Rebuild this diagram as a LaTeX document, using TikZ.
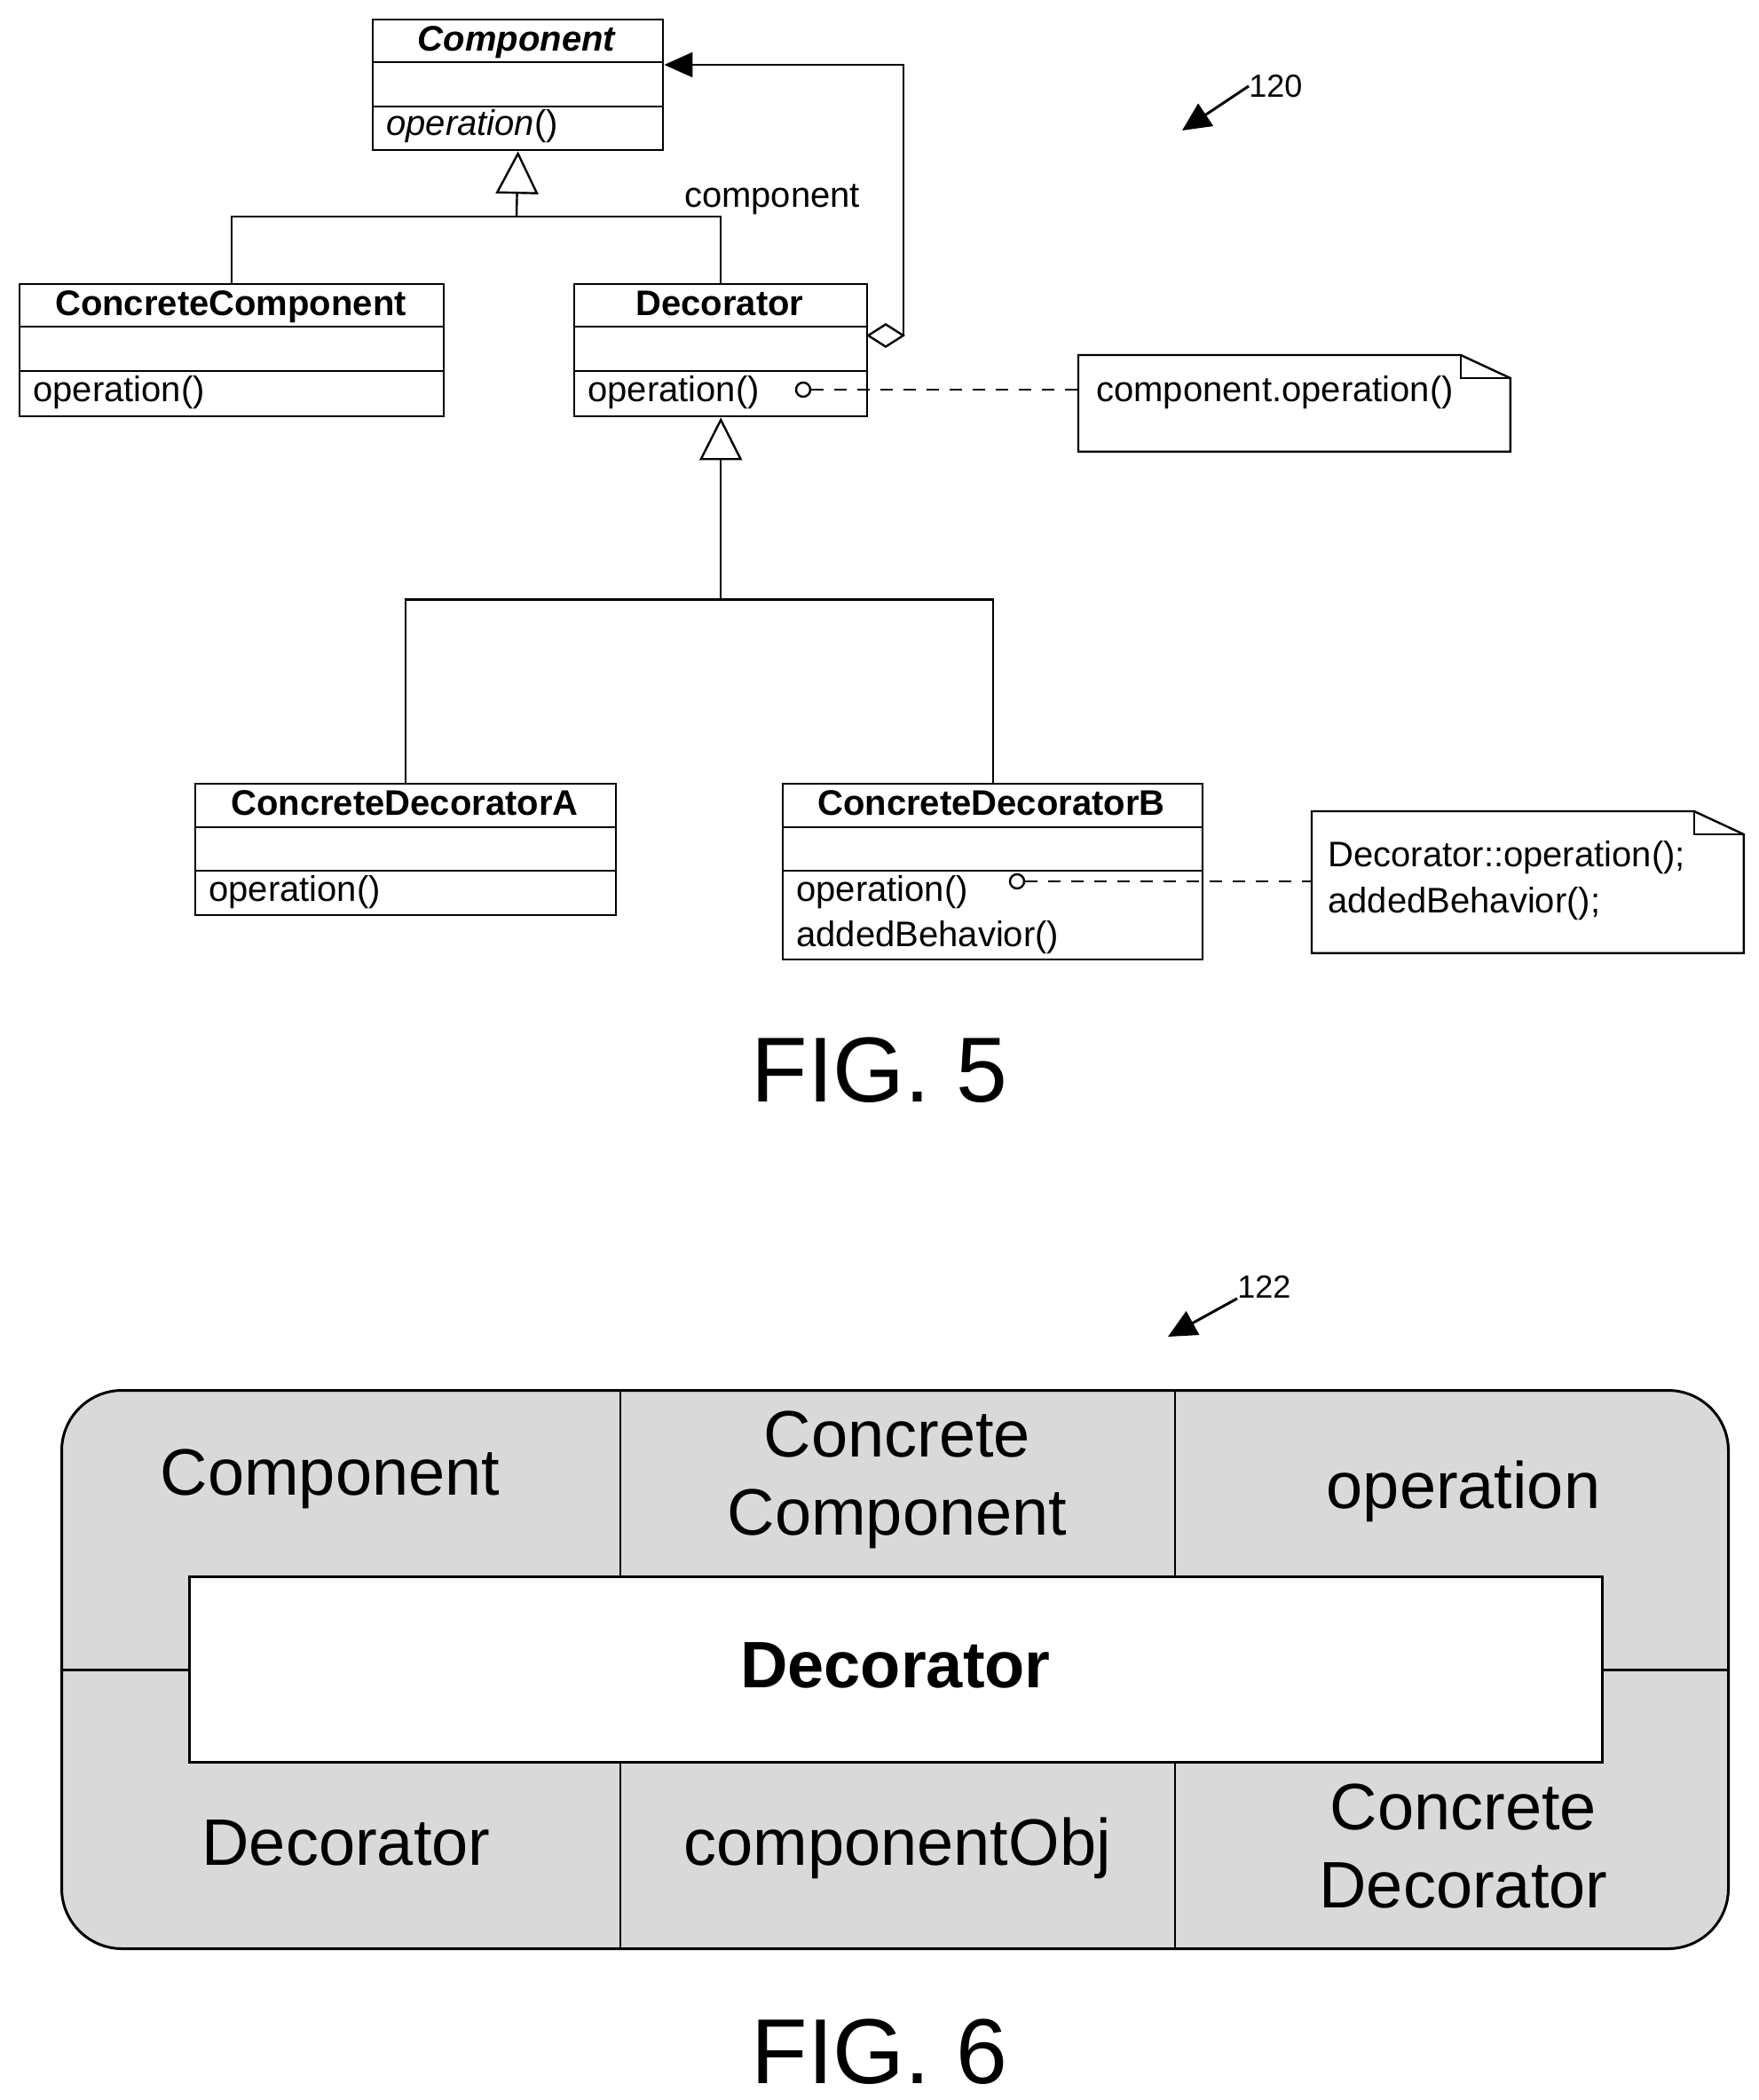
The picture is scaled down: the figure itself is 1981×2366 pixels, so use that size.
\documentclass[tikz,border=0pt]{standalone}
\usepackage{fontspec}
\setmainfont{Liberation Sans}
\usetikzlibrary{arrows.meta}
\newcommand\umlbox[7]{%
 \node[draw, line width=1.2pt, anchor=north west, minimum width={(#4-#2)*0.5pt}, minimum height={(#5-#3)*0.5pt}, inner sep=0] (#1) at (#2,#3) {};
 \draw[line width=1.2pt] (#2,#6) -- (#4,#6) (#2,#7) -- (#4,#7);}
\newcommand\notebox[5]{%
 \node[anchor=north west, minimum width={(#4-#2)*0.5pt}, minimum height={(#5-#3)*0.5pt}, inner sep=0] (#1) at (#2,#3) {};
 \draw[line width=1.2pt] (#1.south west) -- (#1.north west) -- ([xshift=-28pt]#1.north east) -- ([yshift=-13pt]#1.north east) -- (#1.south east) -- cycle;
 \draw[line width=1.2pt] ([xshift=-28pt]#1.north east) -- ([xshift=-28pt,yshift=-13pt]#1.north east) -- ([yshift=-13pt]#1.north east);}
\begin{document}
\begin{tikzpicture}[x=0.5pt,y=-0.5pt,
  uml/.style={font=\fontsize{20}{24}\selectfont, inner sep=0, anchor=base west},
  umlb/.style={font=\fontsize{20}{24}\selectfont\bfseries, inner sep=0, anchor=base},
  big/.style={font=\fontsize{37}{44}\selectfont, align=center, inner sep=0},
  fig/.style={font=\fontsize{52}{60}\selectfont, inner sep=0},
  ref/.style={font=\fontsize{18}{20}\selectfont, inner sep=0, anchor=west},
  ln/.style={line width=1.2pt},
  dsh/.style={line width=1.2pt, dash pattern=on 7pt off 6pt},
  gen/.style={ln, -{Triangle[open, length=24pt, width=24pt]}},
  refarr/.style={line width=1.5pt, -{Triangle[length=16pt, width=15pt]}}]
\useasboundingbox (0,0) rectangle (1981,2366);
% ---------- FIG 5 ----------
\umlbox{comp}{419}{21}{746}{168}{70}{120}
\node[umlb, font=\fontsize{20}{24}\selectfont\bfseries\itshape] (compT) at (582,57) {Component};
\node[uml] (compO) at (435,152) {\itshape operation\upshape()};
\umlbox{cc}{21}{319}{499}{468}{368}{418}
\node[umlb] (ccT) at (260,355) {ConcreteComponent};
\node[uml] (ccO) at (37,452) {operation()};
\umlbox{dec}{646}{319}{976}{468}{368}{418}
\node[umlb] (decT) at (811,355) {Decorator};
\node[uml] (decO) at (662,452) {operation()};
\umlbox{cda}{219}{882}{693}{1030}{932}{981}
\node[umlb] (cdaT) at (456,918) {ConcreteDecoratorA};
\node[uml] (cdaO) at (235,1015) {operation()};
\umlbox{cdb}{881}{882}{1354}{1080}{932}{981}
\node[umlb] (cdbT) at (1117,918) {ConcreteDecoratorB};
\node[uml] (cdbO) at (897,1015) {operation()};
\node[uml] (cdbA) at (897,1066) {addedBehavior()};
\notebox{n1}{1215}{400}{1701}{508}
\node[uml] (n1t) at (1235,452) {component.operation()};
\notebox{n2}{1478}{914}{1964}{1073}
\node[uml] (n2a) at (1496,976) {Decorator::operation();};
\node[uml] (n2b) at (1496,1028) {addedBehavior();};
% generalisation
\coordinate (j1) at (582,244);
\draw[ln] (cc.north) |- (j1) -| (dec.north);
\draw[gen] (j1) -- (comp.south);
\path (dec.south) ++(0,205) coordinate (j2);
\draw[ln] (cda.north) |- (j2) -| (cdb.north);
\draw[gen] (j2) -- (dec.south);
% aggregation
\coordinate (ag) at (1018,73);
\draw[ln, {Diamond[open, length=22pt, width=14pt]}-{Triangle[length=16pt, width=14pt]}] (976,378) -| (ag) -- (comp.east |- ag);
\node[font=\fontsize{20}{24}\selectfont, anchor=base, inner sep=0] (lab) at (870,233) {component};
% note links
\node[draw, ln, circle, inner sep=0, minimum size=8pt] (c1) at (905,439) {};
\draw[dsh] (c1) -- (n1.west |- c1);
\node[draw, ln, circle, inner sep=0, minimum size=8pt] (c2) at (1146,993) {};
\draw[dsh] (c2) -- (n2.west |- c2);
\node[fig] (f5) at (991,1206) {FIG. 5};
\node[ref] (r120) at (1407,97) {120};
\coordinate (a120) at (1332,147);
\draw[refarr] (r120.west) -- (a120);
% ---------- FIG 6 ----------
\node[ref] (r122) at (1394,1450) {122};
\coordinate (a122) at (1316,1506);
\draw[refarr] (r122.south west) -- (a122);
\node[draw, line width=1.5pt, fill=gray!30, rounded corners=34pt, anchor=north west, minimum width=939pt, minimum height=314.5pt, inner sep=0] (outer) at (68,1565) {};
\draw[ln] (699,1565) -- (699,1775) (1324,1565) -- (1324,1775);
\draw[ln] (699,1984) -- (699,2194) (1324,1984) -- (1324,2194);
\node[draw, line width=1.5pt, fill=white, anchor=north west, minimum width=796pt, minimum height=104.5pt, inner sep=0] (inner) at (212,1775) {};
\draw[line width=1.5pt] (outer.west) -- (inner.west) (inner.east) -- (outer.east);
\node[big] (t1) at (372,1666) {Component};
\node[big] (t2) at (1011,1667) {Concrete\\Component};
\node[big] (t3) at (1649,1680) {operation};
\node[big, font=\fontsize{37}{44}\selectfont\bfseries] (t4) at (1009,1876) {Decorator};
\node[big] (t5) at (390,2076) {Decorator};
\node[big] (t6) at (1011,2082) {componentObj};
\node[big] (t7) at (1649,2080) {Concrete\\Decorator};
\node[fig] (f6) at (991,2312) {FIG. 6};
\end{tikzpicture}
\end{document}
